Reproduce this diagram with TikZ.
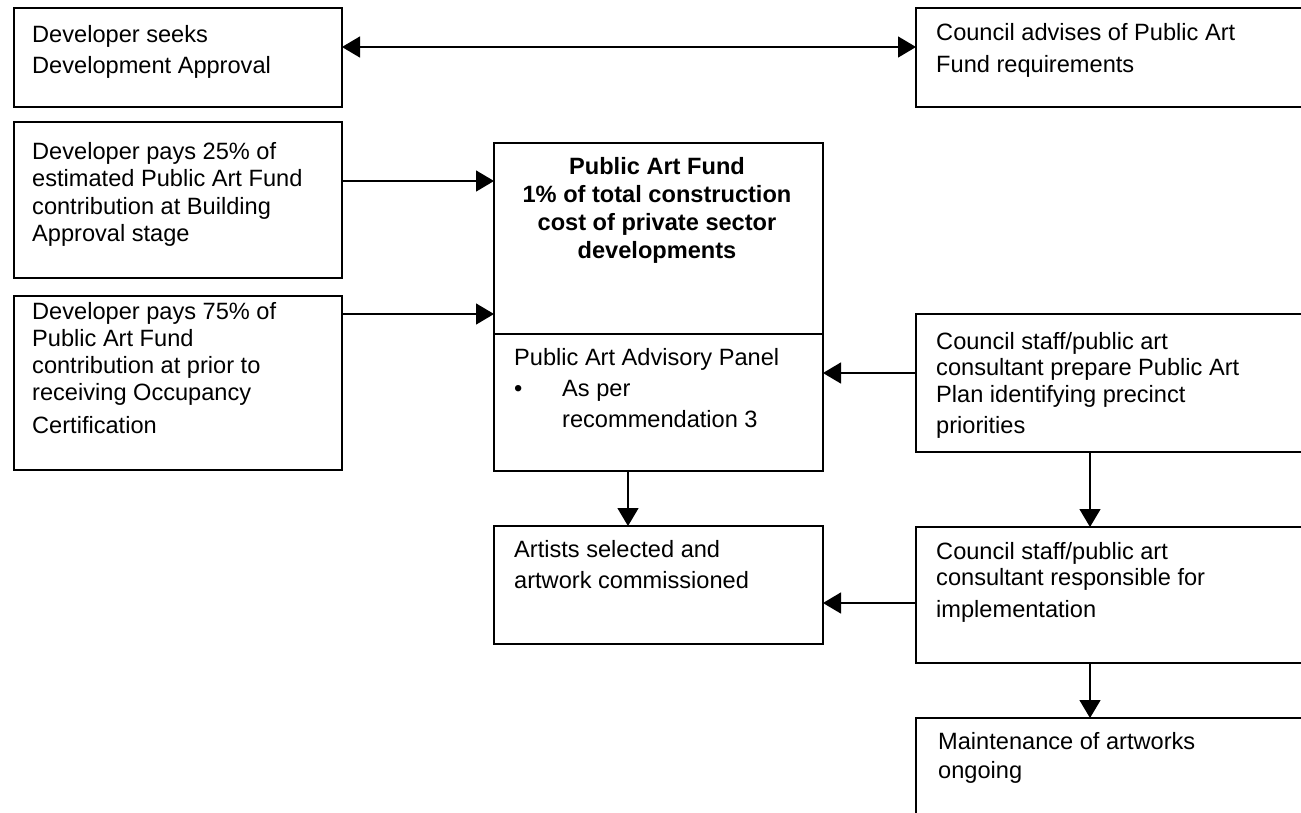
\documentclass[tikz,border=0pt]{standalone}
\usepackage{fontspec}
\setmainfont{Liberation Sans}
\usetikzlibrary{arrows.meta}
\begin{document}
\begin{tikzpicture}[x=1pt,y=-1pt,
  box/.style={draw, line width=1.5pt, inner sep=0pt, outer sep=0pt, anchor=north west},
  txt/.style={inner sep=0pt, anchor=north west, align=left, font=\fontsize{23.6}{28}\selectfont},
  tip/.style={Triangle[length=18pt,width=21pt]},
  arr/.style={line width=1.4pt, -{Triangle[length=18pt,width=21pt]}},
]
\fill[white] (0,0) rectangle (1301,812);
\useasboundingbox (0,0) rectangle (1301,812);
\clip (0,0) rectangle (1301,812);

% boxes
\node[box, minimum width=328pt, minimum height=99pt]  (b1) at (14,8) {};
\node[box, minimum width=400pt, minimum height=99pt]  (b2) at (916,8) {};
\node[box, minimum width=328pt, minimum height=156pt] (b3) at (14,122) {};
\node[box, minimum width=328pt, minimum height=174pt] (b4) at (14,296) {};
\node[box, minimum width=329pt, minimum height=191pt] (pafTop) at (494,143) {};
\node[box, minimum width=329pt, minimum height=137pt] (pafBot) at (494,334) {};
\node[box, minimum width=400pt, minimum height=138pt] (b6) at (916,314) {};
\node[box, minimum width=329pt, minimum height=118pt] (art) at (494,526) {};
\node[box, minimum width=400pt, minimum height=136pt] (b8) at (916,527) {};
\node[box, minimum width=400pt, minimum height=120pt] (b9) at (916,718) {};

% texts
\node[txt, font=\fontsize{23.6}{31}\selectfont] (t1) at (32,25) {Developer seeks\\Development Approval};
\node[txt, font=\fontsize{23.6}{32}\selectfont] (t2) at (936,23.3) {Council advises of Public Art\\Fund requirements};
\node[txt, font=\fontsize{23.6}{27.5}\selectfont] (t3) at (32,141.7) {Developer pays 25\% of\\estimated Public Art Fund\\contribution at Building\\Approval stage};
\node[txt, font=\fontsize{23.6}{27.2}\selectfont] (t4) at (32,301.7) {Developer pays 75\% of\\Public Art Fund\\contribution at prior to\\receiving Occupancy\\[5.5pt]Certification};
\node[txt, anchor=north, align=center, font=\fontsize{23.6}{28.3}\selectfont\bfseries] (tpaf) at (657,156.7) {Public Art Fund\\1\% of total construction\\cost of private sector\\developments};
\node[txt, font=\fontsize{23.6}{31}\selectfont] (tpanel) at (514,348) {Public Art Advisory Panel\\\makebox[48pt][l]{\textbullet}As per\\\hspace*{48pt}recommendation 3};
\node[txt, font=\fontsize{23.6}{31.6}\selectfont] (tart) at (514,540) {Artists selected and\\artwork commissioned};
\node[txt, font=\fontsize{23.6}{26.5}\selectfont] (t6) at (936,331.7) {Council staff/public art\\consultant prepare Public Art\\Plan identifying precinct\\[5pt]priorities};
\node[txt, font=\fontsize{23.6}{26.5}\selectfont] (t8) at (936,541.7) {Council staff/public art\\consultant responsible for\\[5.5pt]implementation};
\node[txt, font=\fontsize{23.6}{29}\selectfont] (t9) at (938,732.5) {Maintenance of artworks\\ongoing};

% connectors
\draw[line width=1.4pt, {Triangle[length=18pt,width=21pt]}-{Triangle[length=18pt,width=21pt]}]
  ([yshift=10.5pt]b1.east) -- ([yshift=10.5pt]b2.west);
\draw[arr] ([yshift=19pt]b3.east) -- ([yshift=19pt]b3.east -| pafTop.west);
\draw[arr] ([yshift=69pt]b4.east) -- ([yshift=69pt]b4.east -| pafTop.west);
\draw[arr] ([yshift=10pt]b6.west) -- ([yshift=10pt]b6.west -| pafBot.east);
\draw[arr] ([xshift=-30.5pt]pafBot.south) -- ([xshift=-30.5pt]pafBot.south |- art.north);
\draw[arr] ([xshift=-26pt]b6.south) -- ([xshift=-26pt]b6.south |- b8.north);
\draw[arr] ([yshift=-8pt]b8.west) -- ([yshift=-8pt]b8.west -| art.east);
\draw[arr] ([xshift=-26pt]b8.south) -- ([xshift=-26pt]b8.south |- b9.north);
\end{tikzpicture}
\end{document}
